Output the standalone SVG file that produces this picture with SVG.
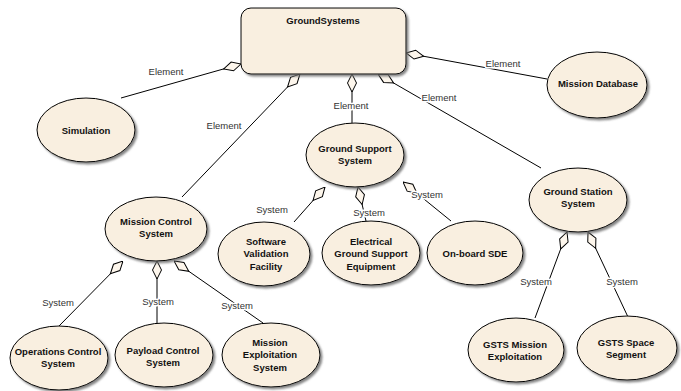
<svg xmlns="http://www.w3.org/2000/svg" width="681" height="391" viewBox="0 0 681 391">
  <defs>
    <filter id="shadow" x="-10%" y="-10%" width="125%" height="130%">
      <feDropShadow dx="2" dy="2" stdDeviation="1" flood-color="#6e6e6e" flood-opacity="0.85"/>
    </filter>
    <!-- hollow aggregation diamond, tip at the owning element -->
    <marker id="agg" markerUnits="userSpaceOnUse" markerWidth="20" markerHeight="12" viewBox="0 -6 20 12" refX="0" refY="0" orient="auto">
      <path d="M0,0 L9,-4.5 L18,0 L9,4.5 Z" fill="#fdf6ec" stroke="#000" stroke-width="1"/>
    </marker>
  </defs>
  <style>
    .node { fill: #f9efe0; stroke: #000; stroke-width: 1; filter: url(#shadow); }
    .name { font-family: "Liberation Sans", Arial, sans-serif; font-size: 9.5px; font-weight: bold; fill: #111; text-anchor: middle; }
    .conn { fill: none; stroke: #000; stroke-width: 1; marker-start: url(#agg); }
    .lbl { font-family: "Liberation Sans", Arial, sans-serif; font-size: 9.5px; fill: #333; text-anchor: middle; stroke: #fff; stroke-width: 3; paint-order: stroke; stroke-linejoin: round; }
  </style>
  <rect width="681" height="391" fill="#fff"/>

  <g id="connectors">
    <path class="conn" d="M241 64 L121 98"/>
    <path class="conn" d="M300 74 L182 197"/>
    <path class="conn" d="M352 74 L352 123"/>
    <path class="conn" d="M378 74 L541 168"/>
    <path class="conn" d="M406 53 L547 79"/>
    <path class="conn" d="M123 261 L59 326"/>
    <path class="conn" d="M157 261 L157 323"/>
    <path class="conn" d="M174 261 L263 323"/>
    <path class="conn" d="M325 187 L294 222"/>
    <path class="conn" d="M358 187 L366 221"/>
    <path class="conn" d="M403 182 L451 221"/>
    <path class="conn" d="M567 232 L535 318"/>
    <path class="conn" d="M588 232 L628 317"/>
    <text class="lbl" x="166" y="75">Element</text>
    <text class="lbl" x="224" y="129">Element</text>
    <text class="lbl" x="351" y="109">Element</text>
    <text class="lbl" x="439" y="101">Element</text>
    <text class="lbl" x="503" y="67">Element</text>
    <text class="lbl" x="58" y="306">System</text>
    <text class="lbl" x="158" y="305">System</text>
    <text class="lbl" x="237" y="309">System</text>
    <text class="lbl" x="272" y="213">System</text>
    <text class="lbl" x="369" y="216">System</text>
    <text class="lbl" x="427" y="198">System</text>
    <text class="lbl" x="536" y="285">System</text>
    <text class="lbl" x="622" y="285">System</text>
  </g>

  <g id="GroundSystems">
    <rect class="node" x="241" y="8" width="165" height="66" rx="10" ry="10"/>
    <text class="name" x="323" y="24">GroundSystems</text>
  </g>
  <g id="Simulation">
    <ellipse class="node" cx="86" cy="130" rx="49" ry="32"/>
    <text class="name" x="86" y="134">Simulation</text>
  </g>
  <g id="MissionDatabase">
    <ellipse class="node" cx="597" cy="85" rx="50" ry="33"/>
    <text class="name" x="598" y="87">Mission Database</text>
  </g>
  <g id="MissionControlSystem">
    <ellipse class="node" cx="156" cy="229" rx="51" ry="32"/>
    <text class="name" x="156" y="225">Mission Control</text>
    <text class="name" x="156" y="237">System</text>
  </g>
  <g id="GroundSupportSystem">
    <ellipse class="node" cx="355" cy="155" rx="49" ry="32"/>
    <text class="name" x="355" y="152">Ground Support</text>
    <text class="name" x="355" y="164">System</text>
  </g>
  <g id="GroundStationSystem">
    <ellipse class="node" cx="578" cy="200" rx="49" ry="32"/>
    <text class="name" x="578" y="195">Ground Station</text>
    <text class="name" x="578" y="207">System</text>
  </g>
  <g id="SoftwareValidationFacility">
    <ellipse class="node" cx="264" cy="254" rx="46" ry="32"/>
    <text class="name" x="266" y="245">Software</text>
    <text class="name" x="266" y="257">Validation</text>
    <text class="name" x="266" y="270">Facility</text>
  </g>
  <g id="ElectricalGSE">
    <ellipse class="node" cx="371" cy="253" rx="49" ry="32"/>
    <text class="name" x="371" y="245">Electrical</text>
    <text class="name" x="371" y="257">Ground Support</text>
    <text class="name" x="371" y="270">Equipment</text>
  </g>
  <g id="OnboardSDE">
    <ellipse class="node" cx="475" cy="253" rx="48" ry="32"/>
    <text class="name" x="475" y="257">On-board SDE</text>
  </g>
  <g id="OperationsControlSystem">
    <ellipse class="node" cx="59" cy="358" rx="49" ry="32"/>
    <text class="name" x="58" y="355">Operations Control</text>
    <text class="name" x="58" y="367">System</text>
  </g>
  <g id="PayloadControlSystem">
    <ellipse class="node" cx="164" cy="355" rx="49" ry="32"/>
    <text class="name" x="163" y="354">Payload Control</text>
    <text class="name" x="163" y="366">System</text>
  </g>
  <g id="MissionExploitationSystem">
    <ellipse class="node" cx="271" cy="355" rx="49" ry="32"/>
    <text class="name" x="270" y="346">Mission</text>
    <text class="name" x="270" y="358">Exploitation</text>
    <text class="name" x="270" y="371">System</text>
  </g>
  <g id="GSTSMissionExploitation">
    <ellipse class="node" cx="516" cy="350" rx="48" ry="32"/>
    <text class="name" x="515" y="348">GSTS Mission</text>
    <text class="name" x="515" y="360">Exploitation</text>
  </g>
  <g id="GSTSSpaceSegment">
    <ellipse class="node" cx="627" cy="348" rx="50" ry="32"/>
    <text class="name" x="626" y="346">GSTS Space</text>
    <text class="name" x="626" y="358">Segment</text>
  </g>
</svg>
